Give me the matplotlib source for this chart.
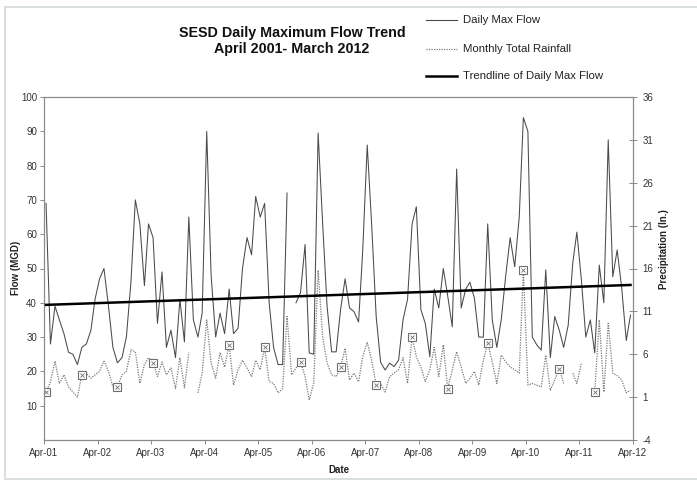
import numpy as np
import pandas as pd
import matplotlib
matplotlib.use("Agg")
import matplotlib.pyplot as plt
import matplotlib.dates as mdates
from matplotlib.lines import Line2D

plt.rcParams['font.family'] = ['Liberation Sans', 'DejaVu Sans']
plt.rcParams['axes.unicode_minus'] = False

# ---------------- data ----------------
start_month = "2001-04-01"
n_months = 132

flow_mgd = [
    69, 28, 39, 35, 31, 25.6, 25, 22, 27, 28, 32, 41, 47, 50,
    39, 27, 22.5, 24, 30, 46, 70, 63, 45, 63, 59, 34, 49, 27,
    32, 24, 41, 28.6, 65, 35, 30, 37, 90, 48, 30, 37, 31, 44,
    31, 32.6, 50, 59, 54, 71, 65, 69, 40, 27, 22, 22, 72, np.nan,
    40, 43, 57, 25.4, 25, 89.5, 63, 39, 25.7, 25.7, 38, 47, 38.5, 37.4,
    34.4, 55, 86, 63, 36, 22.7, 20.4, 22.4, 21.4, 23.3, 35, 41, 63, 68,
    38, 34, 24.3, 44, 38.5, 50, 42, 33, 79, 38.5, 44, 46, 41.4, 30,
    30, 63, 35, 27, 35, 48, 59, 50.5, 65, 94, 90, 30, 27.7, 26.2,
    49.6, 24, 36, 32, 27, 33.5, 51.6, 60.6, 46.6, 30, 35, 25.4, 51, 40,
    87.5, 47.6, 55.4, 44.3, 29, 36.4,
]

rain_in = [
    1.6, 2.8, 5.2, 2.6, 3.6, 2.2, 1.6, 1.0, 3.6, 3.8, 3.2, 3.6, 4.0, 5.2,
    4.0, 2.2, 2.2, 3.6, 4.0, 6.5, 6.3, 2.6, 4.8, 5.6, 5.0, 3.4, 5.1, 3.6,
    4.4, 2.0, 5.6, 2.1, 6.2, np.nan, 1.5, 3.8, 10.0, 5.0, 3.2, 6.2, 4.5, 7.1,
    2.4, 4.2, 5.3, 4.4, 3.4, 5.3, 4.2, 6.8, 2.8, 2.6, 1.5, 2.0, 10.4, 3.6,
    4.4, 5.1, 3.4, 0.7, 2.6, 15.8, 8.0, 5.0, 3.6, 3.4, 4.5, 6.7, 3.0, 3.8,
    2.8, 5.7, 7.4, 5.3, 2.4, 2.6, 1.6, 3.4, 3.8, 4.2, 5.6, 2.6, 8.0, 5.7,
    4.5, 2.8, 4.2, 6.8, 3.4, 7.1, 2.0, 4.2, 6.3, 4.5, 2.6, 3.2, 4.0, 2.4,
    5.3, 7.3, 5.1, 2.6, 5.9, 5.1, 4.5, 4.2, 3.8, 15.8, 2.4, 2.6, 2.4, 2.2,
    5.9, 1.8, 3.0, 4.3, 2.6, np.nan, 3.8, 2.6, 5.0, np.nan, np.nan, 1.6, 10.0, 1.6,
    9.6, 3.8, 3.5, 3.0, 1.5, 1.8,
]

rain_marker_idx = [0, 8, 16, 24, 41, 49, 57, 66, 74, 82, 90, 99, 107, 115, 123]

trend_flow = [39.4, 45.2]   # trendline of daily max flow at first / last month

year_ticks = pd.date_range("2001-04-01", "2012-04-01", freq="12MS")
tick_labels = [d.strftime("Apr-%y") for d in year_ticks]

left_ticks = list(range(10, 101, 10))
right_ticks = list(range(-4, 37, 5))

# ---------------- figure ----------------
W, H = 697, 483
fig = plt.figure(figsize=(W / 100, H / 100), dpi=100)
fig.patch.set_facecolor("white")

# faint page border
fig.add_artist(Line2D([5 / W, 5 / W], [1 - 478 / H, 1 - 7 / H], color="#d3dcd7", lw=1.2))
fig.add_artist(Line2D([5 / W, 1.0], [1 - 7 / H, 1 - 7 / H], color="#d3dcd7", lw=1.2))
fig.add_artist(Line2D([5 / W, 1.0], [1 - 479 / H, 1 - 479 / H], color="#d3dcd7", lw=1.2))

ax = fig.add_axes([44 / W, 1 - 440 / H, (633 - 44) / W, (440 - 97) / H])
ax2 = ax.twinx()

dates = pd.date_range(start_month, periods=n_months, freq="MS") + pd.Timedelta(days=14)
flow = np.array(flow_mgd, dtype=float)
rain = np.array(rain_in, dtype=float)

ax.plot(dates, flow, color="#4a4a4a", lw=0.75, zorder=3)
ax.plot([dates[0], dates[-1]], trend_flow, color="black", lw=1.8, zorder=5)

ax2.plot(dates, rain, color="#7a7a7a", lw=0.9, ls=(0, (1, 1)), zorder=2)
ax2.plot(dates[rain_marker_idx], rain[rain_marker_idx], ls="none", marker="s",
         ms=5.5, mfc="white", mec="#6e6e6e", mew=0.8, zorder=4)
ax2.plot(dates[rain_marker_idx], rain[rain_marker_idx], ls="none", marker="x",
         ms=3.5, mec="#6e6e6e", mew=0.6, zorder=4)

ax.set_xlim(pd.Timestamp("2001-04-01"), pd.Timestamp("2012-04-01"))
ax.set_ylim(0, 100)
ax2.set_ylim(-4, 36)

ax.set_xticks(year_ticks)
ax.set_xticklabels(tick_labels)
ax.set_yticks(left_ticks)
ax2.set_yticks(right_ticks)

for a in (ax, ax2):
    for s in a.spines.values():
        s.set_color("#8a8a8a")
        s.set_linewidth(0.8)

ax.tick_params(axis="x", direction="out", length=3, width=0.7, colors="#8a8a8a",
               labelcolor="#333333", labelsize=7, pad=3)
ax.tick_params(axis="y", direction="out", length=3, width=0.7, colors="#8a8a8a",
               labelcolor="#333333", labelsize=7, pad=2)
ax2.tick_params(axis="y", direction="inout", length=6, width=0.7, colors="#8a8a8a",
                labelcolor="#333333", labelsize=7, pad=4)

ax.set_zorder(ax2.get_zorder() + 1)
ax.patch.set_visible(False)

# axis labels
fig.text(16 / W, 1 - 268 / H, "Flow (MGD)", rotation=90, ha="center", va="center",
         fontsize=7, fontweight="bold", color="#222222")
fig.text(664 / W, 1 - 249 / H, "Precipitation (In.)", rotation=90, ha="center", va="center",
         fontsize=7, fontweight="bold", color="#222222")
fig.text(339 / W, 1 - 470 / H, "Date", ha="center", va="center",
         fontsize=7, fontweight="bold", color="#222222")

# title
fig.text(292 / W, 1 - 33 / H, "SESD Daily Maximum Flow Trend", ha="center", va="center",
         fontsize=10.3, fontweight="bold", color="#111111")
fig.text(292 / W, 1 - 49 / H, "April 2001- March 2012", ha="center", va="center",
         fontsize=10.3, fontweight="bold", color="#111111")

# legend (manual layout)
leg_items = [
    ("Daily Max Flow", dict(color="#4a4a4a", lw=0.8, ls="-"), 20),
    ("Monthly Total Rainfall", dict(color="#7a7a7a", lw=0.9, ls=(0, (1, 1))), 49),
    ("Trendline of Daily Max Flow", dict(color="black", lw=1.8, ls="-"), 76),
]
for label, style, ypx in leg_items:
    fig.add_artist(Line2D([426 / W, 457 / W], [1 - ypx / H, 1 - ypx / H], **style))
    fig.text(463 / W, 1 - ypx / H, label, ha="left", va="center", fontsize=8.2, color="#222222")

fig.savefig("out.png", dpi=100)
